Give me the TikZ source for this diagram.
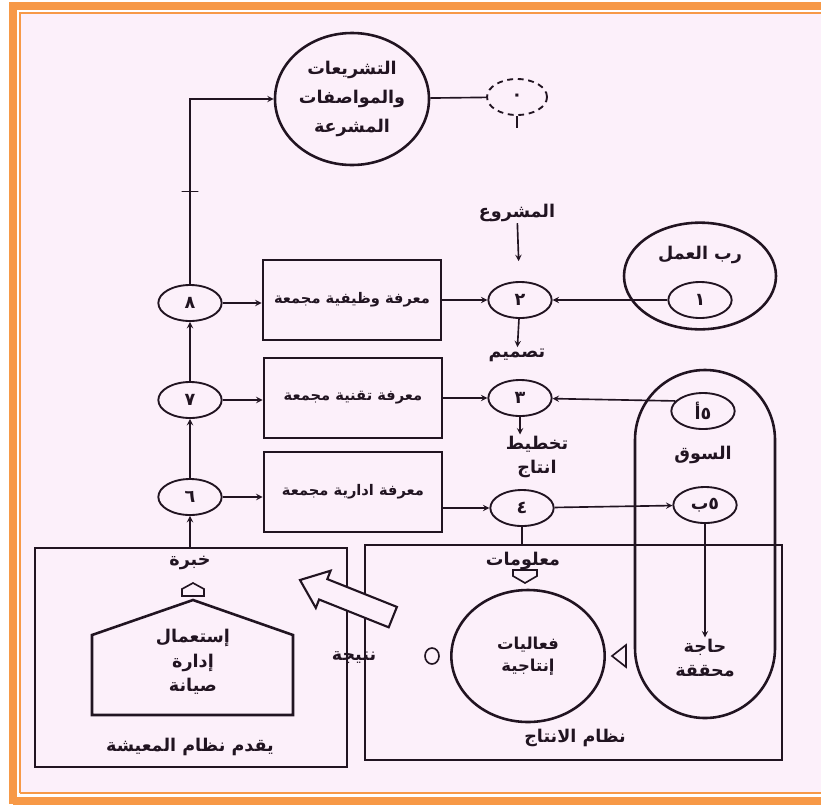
\documentclass[tikz,border=0pt]{standalone}
\usepackage{fontspec}
\usetikzlibrary{shapes.geometric,positioning}
\newfontfamily\arabicfont[Script=Arabic]{DejaVu Sans}
\TeXXeTstate=1
\newcommand{\artxt}[1]{\beginR #1\endR}
\definecolor{pagepink}{rgb}{0.99,0.94,0.98}
\definecolor{frameorange}{rgb}{0.97,0.60,0.28}
\definecolor{ink}{rgb}{0.13,0.08,0.13}

\tikzset{
  num/.style={draw,ellipse,line width=1.6pt,minimum width=1.9cm,minimum height=1.08cm,inner sep=0pt,font=\arabicfont\bfseries\fontsize{15}{15}\selectfont},
  bigcirc/.style={draw,ellipse,line width=2.2pt,align=center,inner sep=0pt,font=\arabicfont\bfseries\fontsize{15}{25}\selectfont},
  kbox/.style={draw,line width=2.2pt,minimum width=5.35cm,minimum height=2.4cm,inner sep=0pt,font=\arabicfont\bfseries\fontsize{12.5}{15}\selectfont},
  lbl/.style={font=\arabicfont\bfseries\fontsize{15}{21}\selectfont,align=center,inner sep=1pt},
  flow/.style={->,line width=1.4pt},
  tickmark/.style={draw,line width=1.4pt,minimum width=0.5cm,minimum height=0pt,inner sep=0pt}
}

\begin{document}
\begin{tikzpicture}[x=0.03cm,y=-0.03cm,>=stealth,color=ink]
\useasboundingbox (0,0) rectangle (821,804);
\fill[white] (0,0) rectangle (821,804);
\fill[pagepink] (20,13) rectangle (821,793);
\draw[frameorange,line width=0.24cm] (13,804) -- (13,5.5) -- (821,5.5);
\draw[frameorange,line width=0.24cm] (13,800.5) -- (821,800.5);
\draw[frameorange,line width=0.06cm] (19.5,793) -- (19.5,12.5) -- (821,12.5);
\draw[frameorange,line width=0.06cm] (19.5,793) -- (821,793);

\node[bigcirc,minimum width=4.62cm,minimum height=3.96cm] (std) at (352,99) {\artxt{التشريعات}\\\artxt{والمواصفات}\\\artxt{المشرعة}};
\node[num,dash pattern=on 5pt off 4pt,minimum width=1.8cm] (n0) at (517,97) {٠};
\coordinate (n0tail) at (517,128);

\node[bigcirc,minimum width=4.56cm,minimum height=3.2cm] (boss) at (700,276) {};
\node[lbl] (bosslbl) at (700,255) {\artxt{رب العمل}};
\node[num] (n1) at (700,300) {١};

\node[draw,line width=2.2pt,rounded corners=2.1cm,minimum width=4.2cm,minimum height=10.44cm] (market) at (705,544) {};
\node[num] (n5a) at (703,411) {\artxt{٥أ}};
\node[lbl] (mkt) at (703,455) {\artxt{السوق}};
\node[num] (n5b) at (705,505) {\artxt{٥ب}};
\node[lbl] (need) at (705,658) {\artxt{حاجة}\\\artxt{محققة}};

\node[kbox] (k1) at (352,300) {\artxt{معرفة وظيفية مجمعة}};
\node[kbox] (k2) at (353,398) {\artxt{معرفة تقنية مجمعة}};
\node[kbox] (k3) at (353,492) {\artxt{معرفة ادارية مجمعة}};

\foreach \i/\d/\y in {8/٨/303,7/٧/400,6/٦/497}
  \node[num] (n\i) at (190,\y) {\d};
\node[num] (n2) at (520,300) {٢};
\node[num] (n3) at (520,398) {٣};
\node[num] (n4) at (522,508) {٤};

\node[lbl] (proj) at (517,213) {\artxt{المشروع}};
\node[lbl] (design) at (517,355) {\artxt{تصميم}};
\node[lbl] (plan) at (537,457) {\artxt{تخطيط}\\\artxt{انتاج}};

\node[draw,line width=2.2pt,minimum width=12.51cm,minimum height=6.45cm] (prodsys) at (573.5,652.5) {};
\node[draw,line width=2.2pt,minimum width=9.36cm,minimum height=6.57cm] (live) at (191,657.5) {};
\node[bigcirc,minimum width=4.6cm,minimum height=3.96cm,font=\arabicfont\bfseries\fontsize{14}{19}\selectfont] (prodc) at (528,656) {\artxt{فعاليات}\\\artxt{إنتاجية}};
\node[lbl] (info) at (523,561) {\artxt{معلومات}};
\node[lbl] (prodlbl) at (575,738) {\artxt{نظام الانتاج}};
\node[lbl] (livelbl) at (190,747) {\artxt{يقدم نظام المعيشة}};
\node[lbl] (exp) at (190,563) {\artxt{خبرة}};
\node[lbl] (res) at (354,658) {\artxt{نتيجة}};

\draw[line width=2.2pt] (193,600) -- (293,635) -- (293,715) -- (92,715) -- (92,635) -- cycle;
\node[lbl] (use) at (193,662) {\artxt{إستعمال}\\\artxt{إدارة}\\\artxt{صيانة}};

\draw[line width=1.4pt] (193,583) -- (204,589) -- (204,596) -- (182,596) -- (182,589) -- cycle;
\draw[line width=1.4pt] (513,570) -- (537,570) -- (537,576) -- (525,583) -- (513,576) -- cycle;
\draw[line width=1.4pt] (432,656) ellipse (7 and 8);
\draw[line width=1.4pt] (612,656) -- (626,645) -- (626,667) -- cycle;
\draw[line width=1.8pt,fill=pagepink] (300,580) -- (330.6,570.7) -- (327.3,579.1) -- (396.9,606.9)
  -- (388.7,627.3) -- (319.1,599.5) -- (315.8,607.9) -- cycle;

\draw[flow] (n8) |- node[pos=0.25,tickmark]{} (std);
\draw[line width=1.4pt] (std) -- (n0);
\draw[line width=1.4pt] (n0) -- (n0tail);
\draw[flow] (n7) -- (n8);
\draw[flow] (n6) -- (n7);
\draw[flow] (n6 |- live.north) -- (n6);
\draw[flow] (n8) -- (n8 -| k1.west);
\draw[flow] (n7) -- (n7 -| k2.west);
\draw[flow] (n6) -- (n6 -| k3.west);
\draw[flow] (k1) -- (n2);
\draw[flow] (k2) -- (n3);
\draw[flow] (k3.east |- n4) -- (n4);
\draw[flow,shorten >=17pt] (proj) -- (n2);
\draw[flow] (n2) -- (design);
\draw[flow] (n3) -- (n3 |- plan.north);
\draw[flow] (n1) -- (n2);
\draw[flow] (n5a.160) -- (n3);
\draw[flow] (n4) -- (n5b);
\draw[flow] (n5b) -- (need);
\draw[line width=1.4pt] (n4) -- (n4 |- prodsys.north);
\end{tikzpicture}
\end{document}
